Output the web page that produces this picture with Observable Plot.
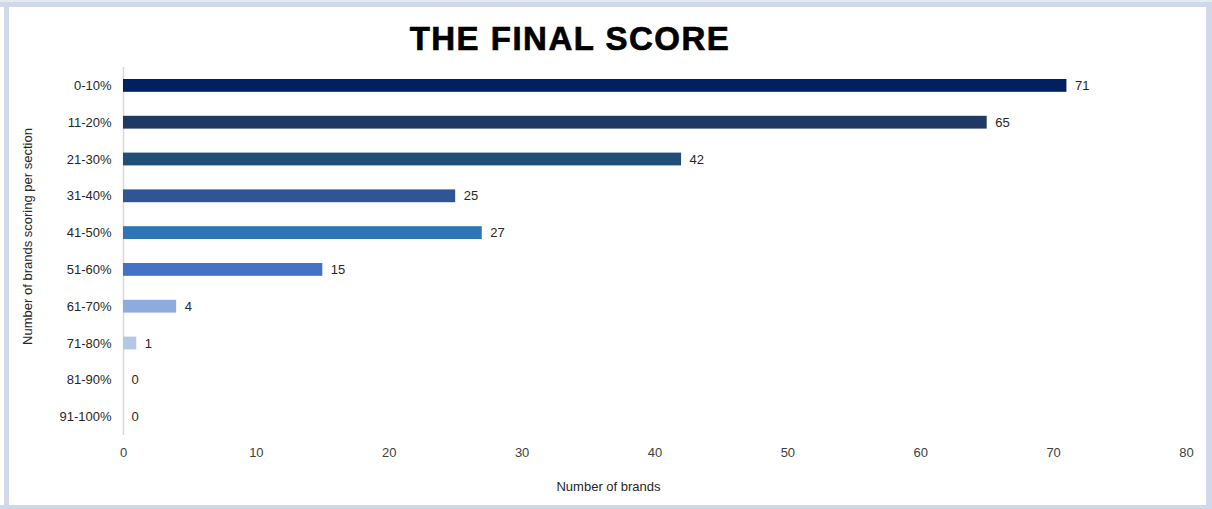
<!DOCTYPE html>
<html>
<head>
<meta charset="utf-8">
<script src="https://cdn.jsdelivr.net/npm/d3@7"></script>
<script src="https://cdn.jsdelivr.net/npm/@observablehq/plot@0.6"></script>
<style>
  html, body { margin: 0; padding: 0; background: #ffffff; }
  #wrap { position: relative; width: 1212px; height: 509px; overflow: hidden; background: #ffffff; font-family: "Liberation Sans", Arial, sans-serif; }
  .bd { position: absolute; background: #cfd9ea; }
  #title { position: absolute; left: 0; width: 1140px; top: 22px; text-align: center; font: bold 33px/33px "Liberation Sans", Arial, sans-serif; letter-spacing: 1.5px; color: #000; -webkit-text-stroke: 0.7px #000; }
  #chart { position: absolute; left: 0; top: 0; }
</style>
</head>
<body>
<div id="wrap">
  <div class="bd" style="left:0;top:2px;width:1212px;height:5px;"></div>
  <div class="bd" style="left:0;top:0;width:1212px;height:2px;background:#e4e9f2;"></div>
  <div class="bd" style="left:4px;top:2px;width:5px;height:507px;"></div>
  <div class="bd" style="left:1206px;top:2px;width:6px;height:507px;"></div>
  <div class="bd" style="left:0;top:505px;width:1212px;height:4px;"></div>
  <div id="chart"></div>
  <div id="title">THE FINAL SCORE</div>
</div>
<script>
const categories = ["0-10%", "11-20%", "21-30%", "31-40%", "41-50%", "51-60%", "61-70%", "71-80%", "81-90%", "91-100%"];
const counts = [71, 65, 42, 25, 27, 15, 4, 1, 0, 0];
const palette = ["#002060", "#203864", "#1f4e79", "#2f5597", "#2e75b6", "#4472c4", "#8faadc", "#b4c7e7", "#b4c7e7", "#b4c7e7"];
const xTicks = [0, 10, 20, 30, 40, 50, 60, 70, 80];
const xLabel = "Number of brands";
const yLabel = "Number of brands scoring per section";

const data = categories.map((c, i) => ({ cat: c, n: counts[i] }));

const W = 1212, H = 509;
const mL = 123, mR = 26, mT = 67, mB = 74;
const FS = 13;

const chart = Plot.plot({
  width: W,
  height: H,
  marginLeft: mL,
  marginRight: mR,
  marginTop: mT,
  marginBottom: mB,
  style: { fontFamily: "'Liberation Sans', Arial, sans-serif", fontSize: FS + "px", background: "transparent", overflow: "visible" },
  x: { domain: [0, 80], ticks: xTicks, label: null },
  y: { domain: categories, padding: 0, round: false, label: null },
  color: { domain: categories, range: palette },
  marks: [
    Plot.ruleX([0], { stroke: "#d9d9d9", strokeWidth: 1.5 }),
    Plot.barX(data, { x: "n", y: "cat", fill: "cat", insetTop: 12, insetBottom: 12 }),
    Plot.text(data, { x: "n", y: "cat", text: d => String(d.n), textAnchor: "start", dx: 8, fill: "#262626", fontSize: FS }),
    Plot.axisX({ ticks: xTicks, tickSize: 0, tickPadding: 12, label: null, fill: "#404040", fontSize: FS }),
    Plot.axisY({ tickSize: 0, tickPadding: 12, label: null, fill: "#262626", fontSize: FS }),
    Plot.text([xLabel], { frameAnchor: "bottom", dy: 55, dx: 608 - (mL + (W - mL - mR) / 2), fill: "#262626", fontSize: FS }),
    Plot.text([yLabel], { frameAnchor: "left", textAnchor: "middle", rotate: -90, dx: -96, dy: -15, fill: "#262626", fontSize: FS })
  ]
});
document.getElementById("chart").appendChild(chart);
</script>
</body>
</html>
